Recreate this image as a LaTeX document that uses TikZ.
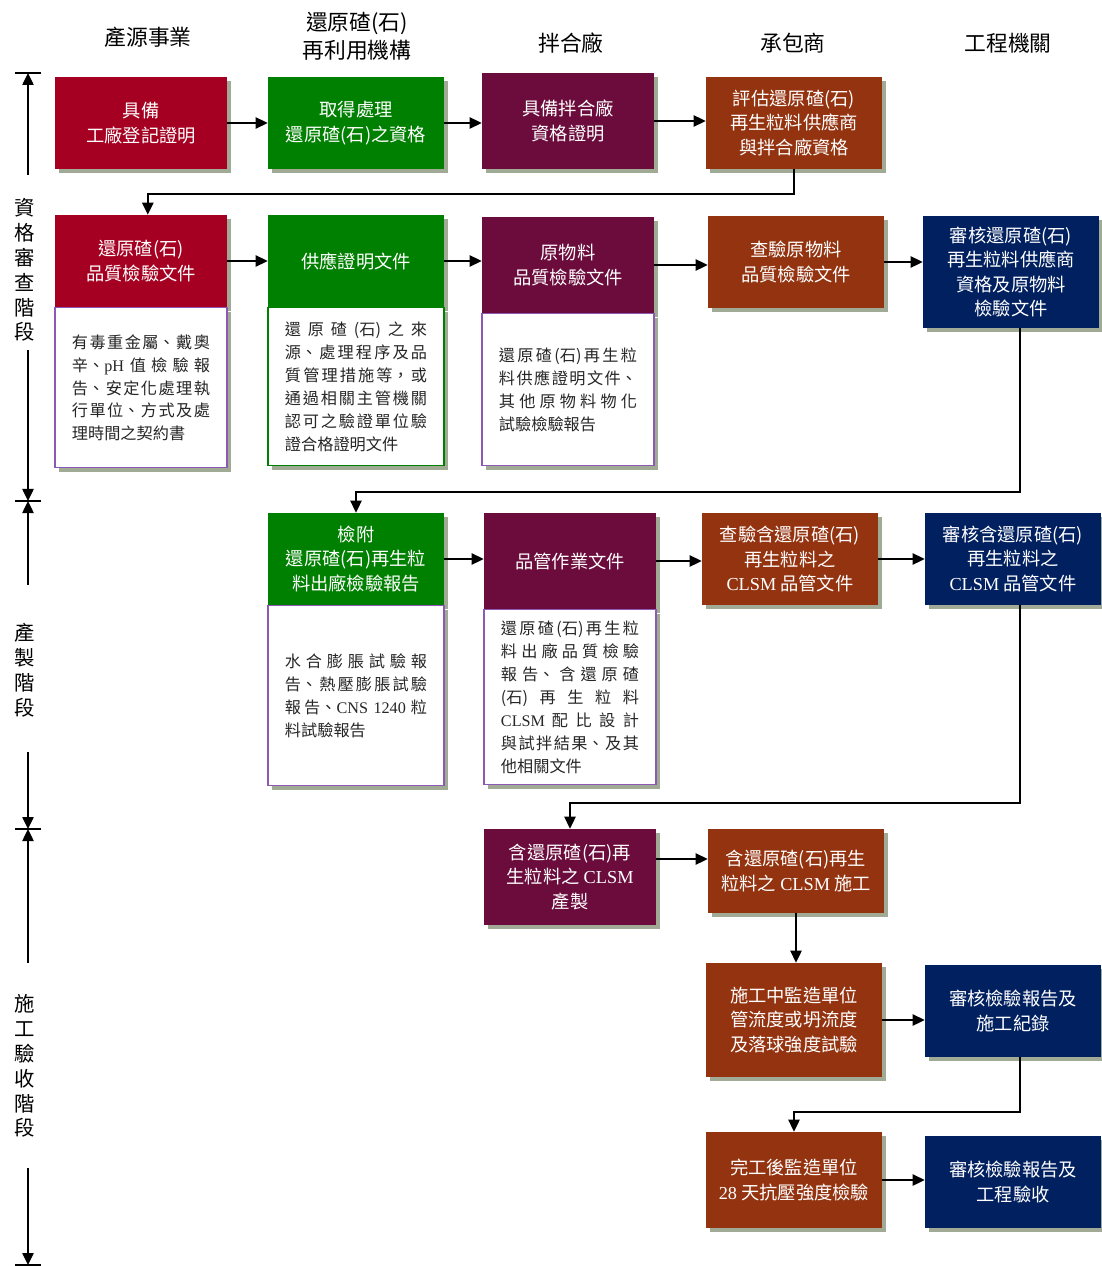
\documentclass[tikz,border=0pt]{standalone}
\usepackage{fontspec}
\setmainfont{Noto Sans CJK TC}
\newfontfamily\latin{Liberation Serif}
\usetikzlibrary{shadows}
\usetikzlibrary{positioning}
\usetikzlibrary{arrows.meta,shapes}
\usetikzlibrary{calc}
\XeTeXlinebreaklocale "zh"
\XeTeXlinebreakskip=0pt plus 3pt
\tolerance=10000
\hbadness=10000

\definecolor{srcred}{RGB}{165,0,33}
\definecolor{plantgreen}{RGB}{0,128,0}
\definecolor{mixpurple}{RGB}{107,12,60}
\definecolor{contbrown}{RGB}{148,51,16}
\definecolor{ownnavy}{RGB}{0,32,96}
\definecolor{shade}{RGB}{160,170,148}
\definecolor{lavender}{RGB}{140,90,180}

\tikzstyle{stepbox}=[rectangle,text=white,align=center,inner sep=2pt,font=\fontsize{13}{17.5}\selectfont,drop shadow={shadow xshift=0.1cm,shadow yshift=-0.1cm,fill=shade,opacity=1}]
\tikzstyle{srcbox}=[stepbox,fill=srcred,minimum width=4.3cm,minimum height=2.3cm]
\tikzstyle{plantbox}=[stepbox,fill=plantgreen,minimum width=4.4cm,minimum height=2.3cm]
\tikzstyle{mixbox}=[stepbox,fill=mixpurple,minimum width=4.3cm,minimum height=2.4cm]
\tikzstyle{contbox}=[stepbox,fill=contbrown,minimum width=4.4cm,minimum height=2.3cm]
\tikzstyle{ownbox}=[stepbox,fill=ownnavy,minimum width=4.4cm,minimum height=2.3cm]
\tikzstyle{notebox}=[rectangle,draw=lavender,line width=0.8pt,fill=white,text=black!85,text width=3.45cm,align=justify,font=\fontsize{11.5}{16.3}\selectfont,drop shadow={shadow xshift=0.1cm,shadow yshift=-0.1cm,fill=shade,opacity=1}]
\tikzstyle{edge}=[draw,line width=1.3pt,-{Triangle[length=0.3cm,width=0.28cm]}]
\tikzstyle{tick}=[draw,line width=1.3pt]
\tikzstyle{heading}=[font=\fontsize{15.5}{20}\selectfont,align=center]
\tikzstyle{phase}=[font=\fontsize{14.5}{17.7}\selectfont,align=center]

\begin{document}
\begin{tikzpicture}[x=0.025cm,y=-0.025cm]
    \useasboundingbox (0,0) rectangle (1101,1266);

    % column titles
    \foreach \name/\x/\y/\txt in {hsrc/148/37/產源事業, hplant/357/36/{還原碴(石)\\再利用機構}, hmix/571/43/拌合廠, hcont/793/43/承包商, hown/1008/43/工程機關}
        \node[heading] (\name) at (\x,\y) {\txt};

    % stage axis
    \foreach \name/\y in {t0/73, t1/501, t2/829, t3/1265}
        \coordinate (\name) at (28,\y);
    \foreach \name/\y in {a1/175, a2/350, a3/585, a4/752, a5/963, a6/1168}
        \coordinate (\name) at (28,\y);
    \foreach \t in {t0,t1,t2,t3}
        \path[tick] ([xshift=-0.33cm]\t) -- ([xshift=0.33cm]\t);
    \foreach \source/\dest in {a1/t0, a2/t1, a3/t1, a4/t2, a5/t2, a6/t3}
        \path[edge] (\source) -- (\dest);
    \node[phase] (ph1) at (25,270) {資\\格\\審\\查\\階\\段};
    \node[phase] (ph2) at (25,670) {產\\製\\階\\段};
    \node[phase] (ph3) at (25,1066) {施\\工\\驗\\收\\階\\段};

    % qualification
    \node[srcbox] (q1) at (141,123) {具備\\工廠登記證明};
    \node[plantbox] (q2) at (356,123) {取得處理\\還原碴(石)之資格};
    \node[mixbox,minimum height=2.375cm] (q3) at (568,121) {具備拌合廠\\資格證明};
    \node[contbox] (q4) at (794,123) {評估還原碴(石)\\再生粒料供應商\\與拌合廠資格};

    \node[srcbox] (r1) at (141,261) {還原碴(石)\\品質檢驗文件};
    \node[plantbox] (r2) at (356,261) {供應證明文件};
    \node[mixbox] (r3) at (568,265) {原物料\\品質檢驗文件};
    \node[contbox,minimum height=2.275cm] (r4) at (796,262) {查驗原物料\\品質檢驗文件};
    \node[ownbox,minimum height=2.775cm] (r5) at (1011,272) {審核還原碴(石)\\再生粒料供應商\\資格及原物料\\檢驗文件};

    \node[notebox,minimum width=4.3cm,minimum height=4cm,below=0pt of r1] (r1d) {有毒重金屬、戴奧\break 辛、{\latin pH} 值檢驗報\break 告、安定化處理執\break 行單位、方式及處\break 理時間之契約書};
    \node[notebox,draw=plantgreen,text width=3.55cm,minimum width=4.4cm,minimum height=3.95cm,below=0pt of r2] (r2d) {還原碴(石)之來\break 源、處理程序及品\break 質管理措施等，或\break 通過相關主管機關\break 認可之驗證單位驗\break 證合格證明文件};
    \node[notebox,minimum width=4.3cm,minimum height=3.8cm,below=0pt of r3] (r3d) {還原碴(石)再生粒\break 料供應證明文件、\break 其他原物料物化\break 試驗檢驗報告};

    % production
    \node[plantbox] (s1) at (356,559) {檢附\\還原碴(石)再生粒\\料出廠檢驗報告};
    \node[mixbox] (s2) at (570,561) {品管作業文件};
    \node[contbox] (s3) at (790,559) {查驗含還原碴(石)\\再生粒料之\\{\latin CLSM} 品管文件};
    \node[ownbox] (s4) at (1013,559) {審核含還原碴(石)\\再生粒料之\\{\latin CLSM} 品管文件};

    \node[notebox,text width=3.55cm,minimum width=4.4cm,minimum height=4.5cm,below=0pt of s1] (s1d) {水合膨脹試驗報\break 告、熱壓膨脹試驗\break 報告、{\latin CNS 1240} 粒\break 料試驗報告};
    \node[notebox,minimum width=4.3cm,minimum height=4.375cm,below=0pt of s2] (s2d) {還原碴(石)再生粒\break 料出廠品質檢驗\break 報告、含還原碴\break (石)再生粒料\break {\latin CLSM} 配比設計\break 與試拌結果、及其\break 他相關文件};

    % construction and acceptance
    \node[mixbox] (u1) at (570,877) {含還原碴(石)再\\生粒料之 {\latin CLSM}\\產製};
    \node[contbox,minimum height=2.1cm] (u2) at (796,871) {含還原碴(石)再生\\粒料之 {\latin CLSM} 施工};
    \node[contbox,minimum height=2.85cm] (v1) at (794,1020) {施工中監造單位\\管流度或坍流度\\及落球強度試驗};
    \node[ownbox] (v2) at (1013,1011) {審核檢驗報告及\\施工紀錄};
    \node[contbox,minimum height=2.4cm] (w1) at (794,1180) {完工後監造單位\\{\latin 28} 天抗壓強度檢驗};
    \node[ownbox] (w2) at (1013,1182) {審核檢驗報告及\\工程驗收};

    \foreach \source/\dest in {q1/q2, q2/q3, q3/q4, r1/r2, r2/r3, r3/r4, r4/r5, s1/s2, s2/s3, s3/s4, v1/v2, w1/w2}
        \path[edge] (\source.east) -- (\source.east -| \dest.west);
    \path[edge] ([yshift=0.45cm]u1.east) -- ([yshift=0.45cm]u1.east -| u2.west);

    \path[edge] (q4.south) -- ++(0,25) -| ([xshift=0.17cm]r1.north);
    \path[edge] ([xshift=0.22cm]r5.south) -- ++(0,164) -| (s1.north);
    \path[edge] ([xshift=0.17cm]s4.south) -- ++(0,198) -| (u1.north);
    \path[edge] (u2.south) -- (u2.south |- v1.north);
    \path[edge] ([xshift=0.17cm]v2.south) -- ++(0,55) -| (w1.north);
\end{tikzpicture}
\end{document}
